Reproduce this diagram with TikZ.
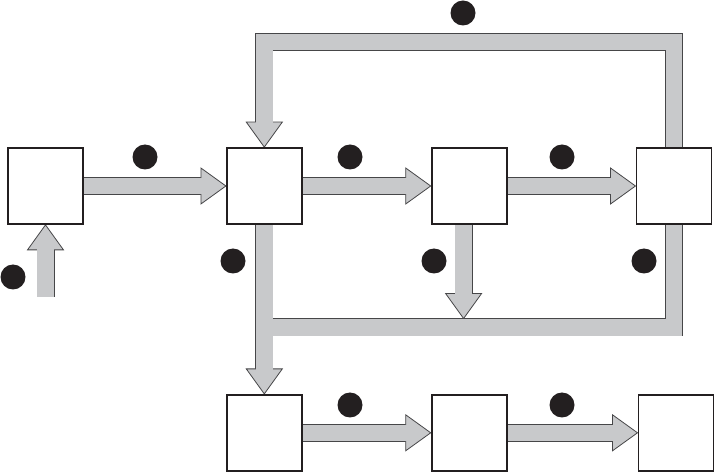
\documentclass[tikz,border=0pt]{standalone}
\usetikzlibrary{positioning, calc}
\definecolor{flowgray}{RGB}{200, 201, 203}
\definecolor{flowrim}{RGB}{70, 70, 72}
\definecolor{inkblack}{RGB}{35, 31, 32}
\pgfdeclarelayer{rim}
\pgfdeclarelayer{core}
\pgfsetlayers{rim,core,main}

\tikzset{
  unit/.style={draw=inkblack, line width=1.8pt, fill=white, minimum width=75pt, minimum height=76pt, inner sep=0pt},
  tag/.style={circle, fill=inkblack, minimum size=25pt, inner sep=0pt},
  bandout/.style={draw=flowrim, line width=18pt, line join=miter},
  bandin/.style={draw=flowgray, line width=16.4pt, line join=miter},
  headed/.style={shorten >=24pt},
  flowhead/.pic={
    \filldraw[fill=flowgray, draw=flowrim, line width=0.8pt, line join=miter] (0pt,0pt) -- (-25pt,18pt) -- (-25pt,-18pt) -- cycle;
  }
}

% wide band: dark rim below, grey core above
\newcommand{\band}[2][]{%
  \begin{pgfonlayer}{rim}\draw[bandout,#1] #2;\end{pgfonlayer}%
  \begin{pgfonlayer}{core}\draw[bandin,#1] #2;\end{pgfonlayer}}
\newcommand{\bandhead}[2]{%
  \begin{pgfonlayer}{rim}\pic[rotate=#2] at (#1) {flowhead};\end{pgfonlayer}}

\begin{document}
\begin{tikzpicture}[x=1pt, y=1pt]
  \useasboundingbox (0,0) rectangle (716,-473);

  % boxes
  \node[unit] (A) at (45.5,-186) {};
  \node[unit, right=142pt of A] (B) {};
  \node[unit, right=128pt of B] (C) {};
  \node[unit, right=128pt of C] (D) {};
  \node[unit, below=169pt of B] (E) {};
  \node[unit, right=128pt of E] (F) {};
  \node[unit, right=130pt of F] (G) {};

  % helper points
  \coordinate (feed) at (45.5,-297);
  \coordinate (loop) at (0,-42);
  \coordinate (rail) at (0,-327.5);
  \coordinate (split) at ([xshift=-5.5pt]C.south);
  \coordinate (merge) at ($(split |- rail)+(0,9)$);

  % bands
  \band[headed]{(feed) -- (A.south)}
  \bandhead{A.south}{90}
  \band[headed]{(A.east) -- (B.west)}
  \bandhead{B.west}{0}
  \band[headed]{(B.east) -- (C.west)}
  \bandhead{C.west}{0}
  \band[headed]{(C.east) -- (D.west)}
  \bandhead{D.west}{0}
  \band[headed]{(D.north) |- (B.north |- loop) -- (B.north)}
  \bandhead{B.north}{-90}
  \band{(D.south) |- (B.south |- rail)}
  \band[headed]{(B.south) -- (E.north)}
  \bandhead{E.north}{-90}
  \band[headed]{(split) -- (merge)}
  \bandhead{merge}{-90}
  \band[headed]{(E.east) -- (F.west)}
  \bandhead{F.west}{0}
  \band[headed]{(F.east) -- (G.west)}
  \bandhead{G.west}{0}

  % markers
  \node[tag] (t1) at (13,-277) {};
  \node[tag] (t2) at (145,-157) {};
  \node[tag] (t3) at (350,-157) {};
  \node[tag] (t4) at (562,-157) {};
  \node[tag] (t5) at (463,-13) {};
  \node[tag] (t6) at (233,-261) {};
  \node[tag] (t7) at (434,-261) {};
  \node[tag] (t8) at (644,-261) {};
  \node[tag] (t9) at (350,-405) {};
  \node[tag] (t10) at (562,-405) {};
\end{tikzpicture}
\end{document}
